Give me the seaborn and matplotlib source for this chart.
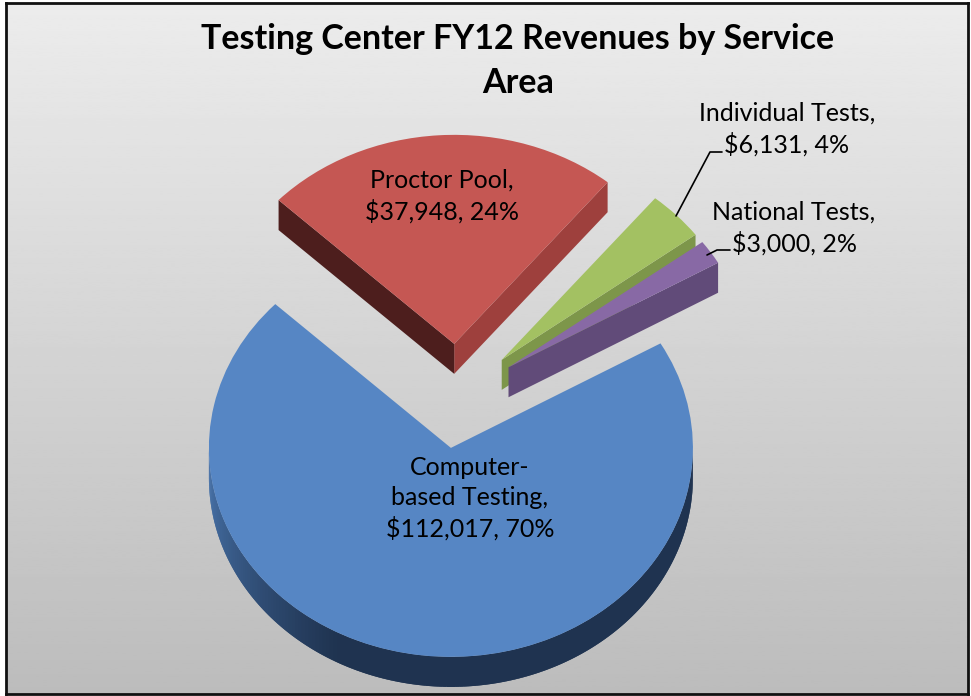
import numpy as np
import matplotlib
matplotlib.use('Agg')
import matplotlib.pyplot as plt
import seaborn as sns

categories = ['Computer-\nbased Testing', 'Proctor Pool', 'Individual Tests', 'National Tests']
revenues = [112017, 37948, 6131, 3000]
percents = [70, 24, 4, 2]
explode = [0.25, 0.25, 0.25, 0.25]

top_colors = ['#5686c4', '#c55753', '#a3c162', '#8869a5']
right_wall_colors = ['#1f3350', '#9e403d', '#7d964a', '#614b79']
left_wall_colors = ['#1f3350', '#4d1e1d', '#7d964a', '#614b79']
draw_order = [1, 2, 3, 0]

W, H = 971, 696
CX, CY, RX, RY = 458, 396, 242, 209
DEPTH = 30 / RY

sns.set_theme(style='white')
plt.rcParams['font.family'] = ['Lato', 'DejaVu Sans']


def px(x, y):
    # figure pixels from the top left -> figure fraction
    return x / W, 1 - y / H


def fill_wall(ax, p, q, color, z):
    ax.fill([p[0], q[0], q[0], p[0]], [p[1], q[1], q[1] - DEPTH, p[1] - DEPTH],
            color=color, lw=0, zorder=z)


def wedge_point(w, angle):
    a = np.deg2rad(angle)
    return w.center[0] + w.r * np.cos(a), w.center[1] + w.r * np.sin(a)


fig = plt.figure(figsize=(W / 100, H / 100), dpi=100, facecolor='white')

# gray background with frame
left, bottom = px(6, 694)
right, top = px(968, 3)
bg = fig.add_axes([left, bottom, right - left, top - bottom], zorder=0)
bg.imshow(np.linspace(236, 188, 256).reshape(-1, 1), cmap='gray', vmin=0, vmax=255, aspect='auto')
bg.set_xticks([])
bg.set_yticks([])
for s in bg.spines.values():
    s.set_visible(True)
    s.set_color('#111111')
    s.set_linewidth(2)

ax = fig.add_axes([0, 0, 1, 1], zorder=1)
wedges, _ = ax.pie(revenues, colors=sns.color_palette(top_colors), explode=explode,
                   startangle=30, counterclock=False, radius=1,
                   wedgeprops={'linewidth': 0})
ax.set_aspect('auto')
ax.set_xlim(-CX / RX, (W - CX) / RX)
ax.set_ylim((CY - H) / RY, CY / RY)
ax.patch.set_alpha(0)

# walls under each slice, back to front
z = 1
for i in draw_order:
    w = wedges[i]
    if np.cos(np.deg2rad(w.theta1)) > 0:
        fill_wall(ax, w.center, wedge_point(w, w.theta1), right_wall_colors[i], z)
    if np.cos(np.deg2rad(w.theta2)) < 0:
        fill_wall(ax, w.center, wedge_point(w, w.theta2), left_wall_colors[i], z)
    for a in np.arange(np.floor(w.theta1), np.ceil(w.theta2), 1.0):
        a0, a1 = max(a, w.theta1), min(a + 1, w.theta2)
        if np.sin(np.deg2rad((a0 + a1) / 2)) >= 0:
            continue
        t = np.clip(((a0 + a1) / 2 % 360 - 180) / 62, 0, 1)
        shade = np.array(matplotlib.colors.to_rgb('#4a76ae')) * (1 - t) + np.array(matplotlib.colors.to_rgb(right_wall_colors[i])) * t
        # runs a little under the next strip so no seams show
        fill_wall(ax, wedge_point(w, a0), wedge_point(w, min(a1 + 1, 360)), shade, z)
    w.set_zorder(z + 1)
    z += 2

# title and labels
x, y = px(518, 61)
fig.text(x, y, 'Testing Center FY12 Revenues by Service\nArea', ha='center', va='center',
         fontsize=24.5, fontweight='bold', color='black', linespacing=1.44, zorder=5)

label_pos = [(470, 498), (442, 196), (787, 129), (794, 228)]
for name, rev, pct, (lx, ly) in zip(categories, revenues, percents, label_pos):
    x, y = px(lx, ly)
    fig.text(x, y, f'{name},\n${rev:,}, {pct}%', ha='center', va='center',
             fontsize=18, color='black', linespacing=1.35, zorder=5)

# leader lines
for xs, ys in [([722, 710, 676], [152, 152, 216]), ([730, 717, 707], [250, 250, 255])]:
    pts = [px(a, b) for a, b in zip(xs, ys)]
    fig.add_artist(plt.Line2D([p[0] for p in pts], [p[1] for p in pts], color='black', lw=1.2, zorder=5))

fig.savefig('out.png', dpi=100)
